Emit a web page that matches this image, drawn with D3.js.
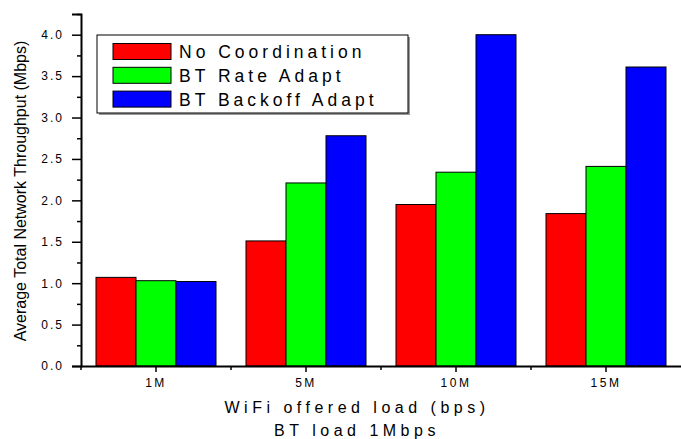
<!DOCTYPE html>
<html>
<head>
<meta charset="utf-8">
<script src="https://cdn.jsdelivr.net/npm/d3@7"></script>
<style>
  body { margin: 0; background: #fff; }
  svg text { font-family: "Liberation Sans", Arial, sans-serif; fill: #000; }
</style>
</head>
<body>
<svg id="chart" width="681" height="439"></svg>
<script>
var categories = ["1M", "5M", "10M", "15M"];
var seriesNames = ["No Coordination", "BT Rate Adapt", "BT Backoff Adapt"];
var noCoordination = [1.07, 1.51, 1.95, 1.84];
var rateAdapt = [1.03, 2.21, 2.34, 2.41];
var backoffAdapt = [1.02, 2.78, 4.00, 3.61];
var yMajorTicks = [0, 0.5, 1.0, 1.5, 2.0, 2.5, 3.0, 3.5, 4.0];
var yMinorTicks = [0.25, 0.75, 1.25, 1.75, 2.25, 2.75, 3.25, 3.75, 4.25];
var colors = ["#ff0000", "#00ff00", "#0000ff"];

var series = [noCoordination, rateAdapt, backoffAdapt];

var svg = d3.select("#chart");

var x = d3.scaleBand().domain(categories).range([81, 681]).paddingInner(0.2).paddingOuter(0.1);
var x1 = d3.scaleBand().domain(d3.range(series.length)).range([0, x.bandwidth()]);
var y = d3.scaleLinear().domain([0, 4.25]).range([366, 14]);

// bars
var groups = svg.selectAll("g.group")
    .data(categories)
    .enter()
    .append("g")
    .attr("class", "group")
    .attr("transform", function(d) { return "translate(" + x(d) + ",0)"; });

groups.selectAll("rect")
    .data(function(d, i) { return series.map(function(s, j) { return {s: j, v: s[i]}; }); })
    .enter()
    .append("rect")
    .attr("x", function(d) { return x1(d.s); })
    .attr("width", x1.bandwidth())
    .attr("y", function(d) { return y(d.v); })
    .attr("height", function(d) { return y(0) - y(d.v); })
    .attr("fill", function(d) { return colors[d.s]; })
    .attr("stroke", "#000")
    .attr("stroke-width", 1);

// y axis
var yAxis = svg.append("g")
    .attr("transform", "translate(81,0)")
    .call(d3.axisLeft(y).tickValues(yMajorTicks).tickSize(9).tickPadding(8).tickFormat(d3.format(".1f")));
svg.append("g")
    .attr("transform", "translate(81,0)")
    .call(d3.axisLeft(y).tickValues(yMinorTicks).tickSize(4).tickFormat(""))
    .select(".domain").remove();
yAxis.selectAll("text")
    .style("font-size", "12px")
    .style("letter-spacing", "2px")
    .attr("fill", "#000");

// x axis
var xAxis = svg.append("g")
    .attr("transform", "translate(0,366)")
    .call(d3.axisBottom(x).tickSize(6).tickPadding(6).tickSizeOuter(0));
xAxis.selectAll("text")
    .style("font-size", "12px")
    .style("letter-spacing", "2.5px")
    .attr("fill", "#000");

var gap = (x.step() - x.bandwidth()) / 2;
svg.append("g")
    .selectAll("line")
    .data(categories)
    .enter()
    .append("line")
    .attr("x1", function(d) { return x(d) - gap; })
    .attr("x2", function(d) { return x(d) - gap; })
    .attr("y1", 366)
    .attr("y2", 370)
    .attr("stroke", "#000")
    .attr("stroke-width", 1.5);

svg.selectAll(".domain").attr("stroke", "#000").attr("stroke-width", 2);
svg.selectAll(".tick line").attr("stroke", "#000").attr("stroke-width", 1.5);

// axis titles
svg.append("text")
    .attr("transform", "translate(26,191) rotate(-90)")
    .attr("text-anchor", "middle")
    .style("font-size", "16px")
    .text("Average Total Network Throughput (Mbps)");

svg.append("text")
    .attr("x", 357)
    .attr("y", 413)
    .attr("text-anchor", "middle")
    .style("font-size", "16px")
    .style("letter-spacing", "4.5px")
    .text("WiFi offered load (bps)");

svg.append("text")
    .attr("x", 357)
    .attr("y", 436)
    .attr("text-anchor", "middle")
    .style("font-size", "16px")
    .style("letter-spacing", "4.5px")
    .text("BT load 1Mbps");

// legend
var legend = svg.append("g");
legend.append("rect")
    .attr("x", 99).attr("y", 37).attr("width", 311).attr("height", 78)
    .attr("fill", "#999");
legend.append("rect")
    .attr("x", 97).attr("y", 35).attr("width", 311).attr("height", 78)
    .attr("fill", "#fff").attr("stroke", "#000").attr("stroke-width", 1);

var items = legend.selectAll("g.item")
    .data(seriesNames)
    .enter()
    .append("g")
    .attr("class", "item")
    .attr("transform", function(d, i) { return "translate(0," + (43.5 + i * 23.8) + ")"; });

items.append("rect")
    .attr("x", 113).attr("y", 0).attr("width", 58).attr("height", 16)
    .attr("fill", function(d, i) { return colors[i]; })
    .attr("stroke", "#000").attr("stroke-width", 1);

items.append("text")
    .attr("x", 179)
    .attr("y", 14.5)
    .style("font-size", "17.5px")
    .style("letter-spacing", "4px")
    .text(function(d) { return d; });
</script>
</body>
</html>
